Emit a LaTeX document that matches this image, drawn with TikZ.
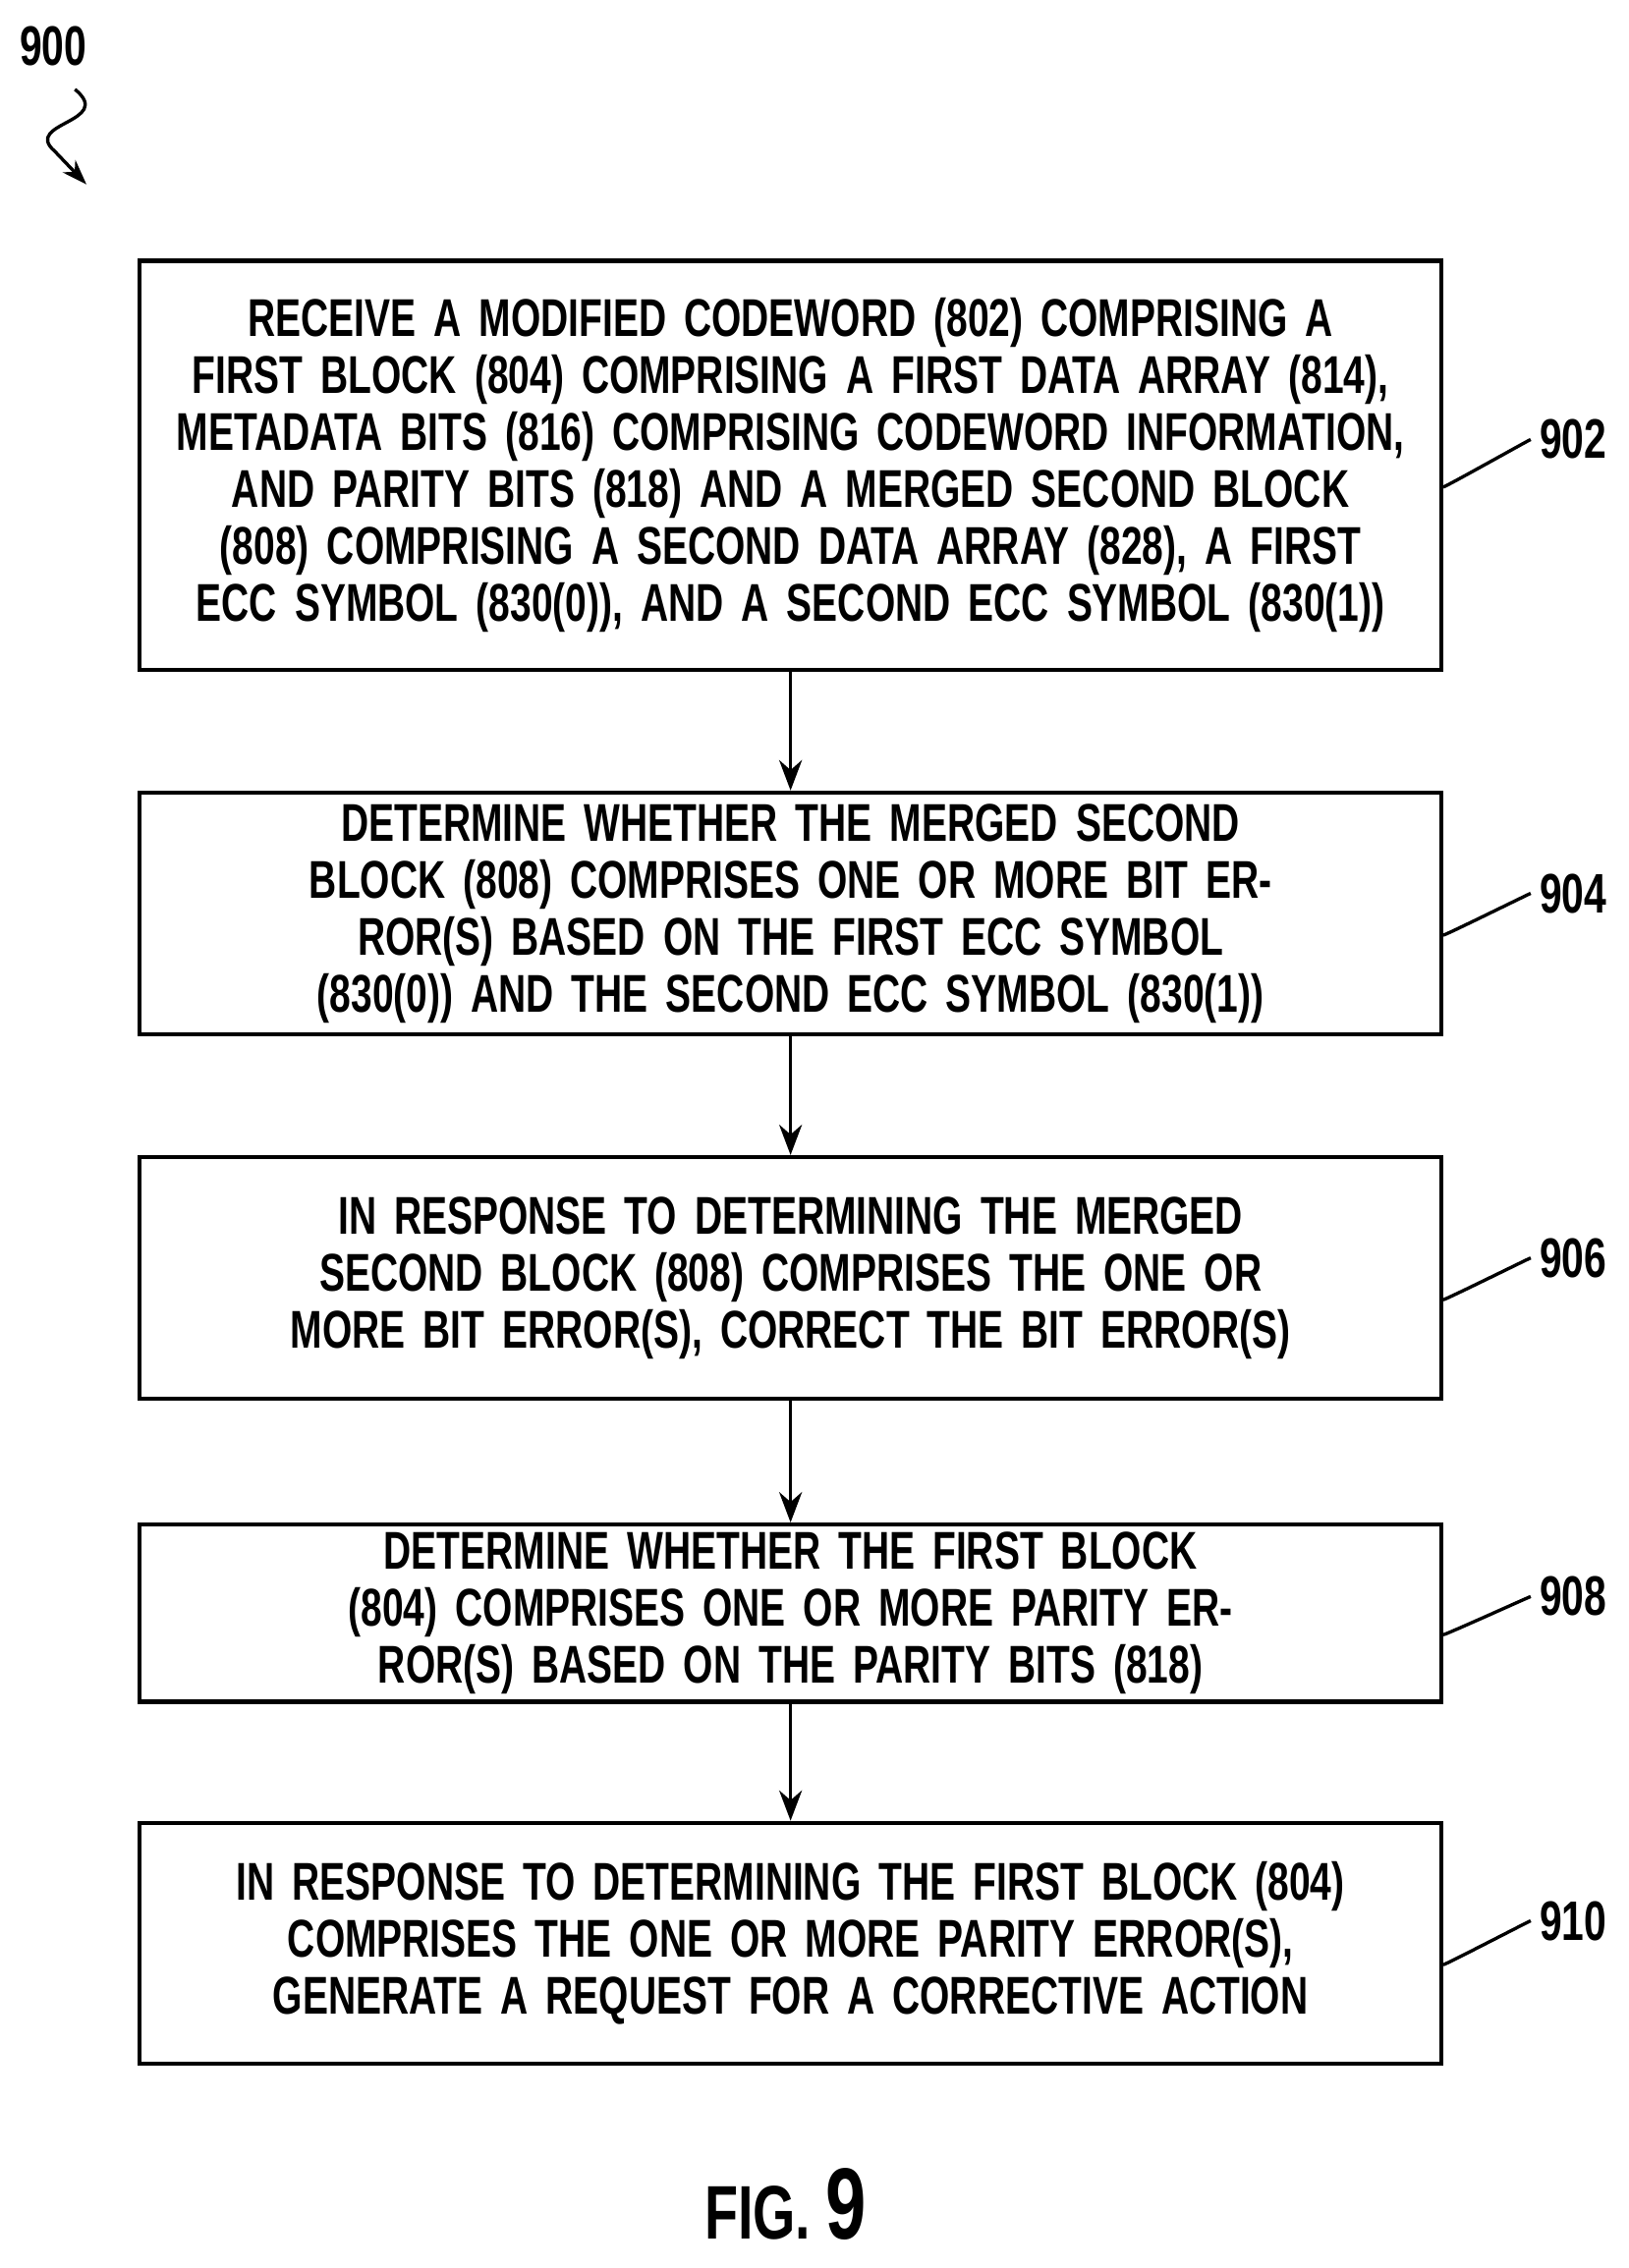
\documentclass[tikz,border=0pt]{standalone}
\usepackage{fontspec}
\setmainfont{Liberation Sans}[FakeStretch=0.72]
\usetikzlibrary{positioning,arrows.meta}
\begin{document}
\begin{tikzpicture}[x=0.02cm,y=-0.02cm,
  stepbox/.style={draw, line width=1.6pt, minimum width=18.06cm, text width=17.4cm, align=center,
    font=\fontsize{21}{22.5}\selectfont\bfseries, inner sep=0pt},
  ref/.style={font=\fontsize{22}{22}\selectfont\bfseries, anchor=west},
  lead/.style={line width=1.3pt},
  flow/.style={line width=1.3pt, -{Stealth[length=12pt,width=9pt]}}]
\useasboundingbox (0,0) rectangle (1130,1574);

\node[stepbox, minimum height=5.68cm] (b902) at (548.5,323) {RECEIVE A MODIFIED CODEWORD (802) COMPRISING A FIRST BLOCK (804) COMPRISING A FIRST DATA ARRAY (814), METADATA BITS (816) COMPRISING CODEWORD INFORMATION, AND PARITY BITS (818) AND A MERGED SECOND BLOCK (808) COMPRISING A SECOND DATA ARRAY (828), A FIRST ECC SYMBOL (830(0)), AND A SECOND ECC SYMBOL (830(1))};
\node[stepbox, minimum height=3.36cm] (b904) at (548.5,634) {DETERMINE WHETHER THE MERGED SECOND BLOCK (808) COMPRISES ONE OR MORE BIT ERROR(S) BASED ON THE FIRST ECC SYMBOL (830(0)) AND THE SECOND ECC SYMBOL (830(1))};
\node[stepbox, minimum height=3.36cm] (b906) at (548.5,887) {IN RESPONSE TO DETERMINING THE MERGED SECOND BLOCK (808) COMPRISES THE ONE OR MORE BIT ERROR(S), CORRECT THE BIT ERROR(S)};
\node[stepbox, minimum height=2.46cm] (b908) at (548.5,1119.5) {DETERMINE WHETHER THE FIRST BLOCK (804) COMPRISES ONE OR MORE PARITY ERROR(S) BASED ON THE PARITY BITS (818)};
\node[stepbox, minimum height=3.34cm] (b910) at (548.5,1348.5) {IN RESPONSE TO DETERMINING THE FIRST BLOCK (804) COMPRISES THE ONE OR MORE PARITY ERROR(S), GENERATE A REQUEST FOR A CORRECTIVE ACTION};

% step numbers
\node[ref] (l902) at (1062,305) {902};
\node[ref] (l904) at (1062,620) {904};
\node[ref] (l906) at (1062,873) {906};
\node[ref] (l908) at (1062,1108) {908};
\node[ref] (l910) at (1062,1333) {910};

\foreach \n in {902,904,906,908,910}
  \draw[lead] ([yshift=-0.3cm]b\n.east) .. controls +(0.6,0.5) and +(-0.5,0) .. (l\n.west);

\draw[flow] (b902) -- (b904);
\draw[flow] (b904) -- (b906);
\draw[flow] (b906) -- (b908);
\draw[flow] (b908) -- (b910);

\node[ref, anchor=center] (l900) at (37,32) {900};
\coordinate (tip) at (60,128);
\draw[lead, -{Stealth[length=10pt,width=7pt]}] (52,62) .. controls (80,85) and (15,85) .. (38,105) -- (tip);

\node[font=\fontsize{30}{30}\selectfont\bfseries] (fig) at (545,1530) {FIG. {\fontsize{40}{40}\selectfont 9}};
\end{tikzpicture}
\end{document}
